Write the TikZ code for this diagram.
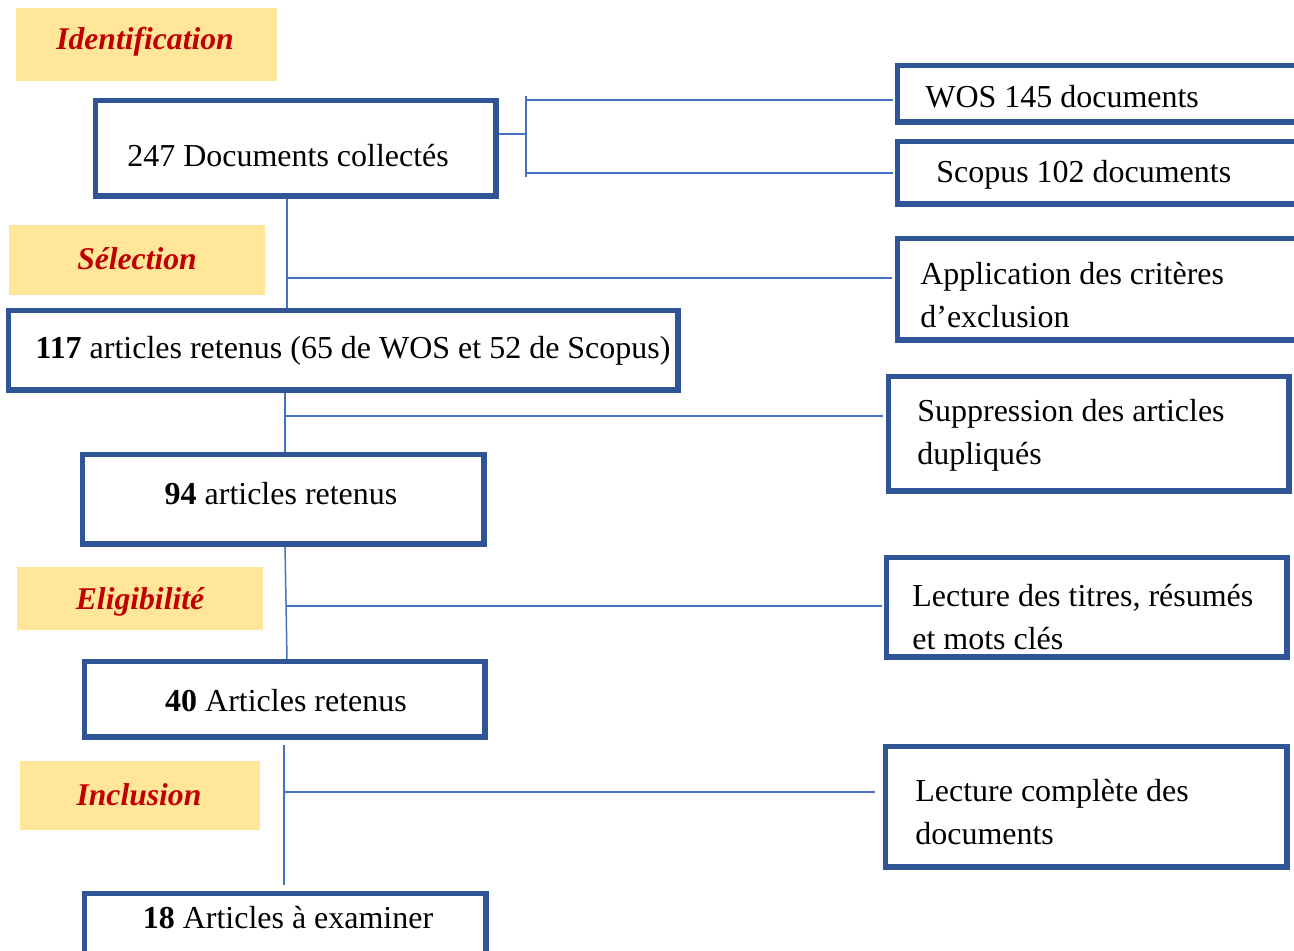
\documentclass[tikz,border=0pt]{standalone}
\usepackage{fontspec}
\setmainfont{Liberation Serif}
\usetikzlibrary{fit}
\definecolor{boxblue}{HTML}{2F5597}
\definecolor{linkblue}{HTML}{4472C4}
\definecolor{labred}{HTML}{C00000}
\definecolor{labfill}{HTML}{FFE699}
\tikzset{
  box/.style={draw=boxblue, line width=0.07cm, inner sep=0pt, fill=white},
  phase/.style={fill=labfill, draw=none, inner sep=0pt},
  txt/.style={inner sep=0pt, font=\fontsize{18.2}{24.5}\selectfont, align=left},
  phasetxt/.style={inner sep=0pt, text=labred, font=\fontsize{18}{22}\selectfont\bfseries\itshape},
  link/.style={draw=linkblue, line width=0.03cm},
}
\begin{document}
\begin{tikzpicture}[x=0.02cm, y=-0.02cm]
\useasboundingbox (0,0) rectangle (1294,950);
\clip (0,0) rectangle (1294,950);
\coordinate (br) at (526,134);
\coordinate (brt) at (526,96);
\coordinate (brb) at (526,177);
\coordinate (j1) at (287,278);
\coordinate (j2) at (285,416);
\coordinate (j3) at (287,606);
\coordinate (j4) at (284,792);
% phase labels
\node[phase, fit={(16,8) (277,81)}] (ident) {};
\node[phasetxt] (identt) at (145,42) {Identification};
\node[phase, fit={(9,225) (265,295)}] (sel) {};
\node[phasetxt] (selt) at (137,259) {Sélection};
\node[phase, fit={(17,567) (263,630)}] (elig) {};
\node[phasetxt] (eligt) at (140,602) {Eligibilité};
\node[phase, fit={(20,761) (260,830)}] (incl) {};
\node[phasetxt] (inclt) at (139,795) {Inclusion};
% boxes (left)
\node[box, fit={(96,101) (495,195)}] (b1) {};
\node[box, fit={(9,311) (677,389)}] (b117) {};
\node[box, fit={(83,455) (483,543)}] (b94) {};
\node[box, fit={(85,662) (484,736)}] (b40) {};
\node[box, fit={(85,894) (485,970)}] (b18) {};
% boxes (right)
\node[box, fit={(898,66) (1310,121)}] (wos) {};
\node[box, fit={(898,142) (1310,203)}] (scop) {};
\node[box, fit={(898,239) (1310,339)}] (app) {};
\node[box, fit={(889,377) (1288,490)}] (sup) {};
\node[box, fit={(887,558) (1286,656)}] (lect1) {};
\node[box, fit={(886,747) (1286,866)}] (lect2) {};
% connectors
\draw[link] (b1.south -| j1) -- (b117.north -| j1);
\draw[link] (j1) -- ([xshift=-0.08cm]j1 -| app.west);
\draw[link] (b1.east |- br) -- (br);
\draw[link] (brt) -- (brb);
\draw[link] (br |- 0,100) -- ([xshift=-0.06cm]wos.west |- 0,100);
\draw[link] (br |- 0,173) -- ([xshift=-0.06cm]scop.west |- 0,173);
\draw[link] (b117.south -| j2) -- (b94.north -| j2);
\draw[link] (j2) -- ([xshift=-0.08cm]j2 -| sup.west);
\draw[link] (b94.south -| j2) -- (b40.north -| j3);
\draw[link] (j3) -- ([xshift=-0.06cm]j3 -| lect1.west);
\draw[link] ([yshift=-0.14cm]b40.south -| j4) -- ([yshift=0.14cm]b18.north -| j4);
\draw[link] (j4) -- ([xshift=-0.18cm]j4 -| lect2.west);
% box borders on top of connector ends
\foreach \n in {b1,b117,b94,b40,b18,wos,scop,app,sup,lect1,lect2}
  \draw[draw=boxblue, line width=0.07cm] (\n.north west) rectangle (\n.south east);
% texts
\node[txt, anchor=west] (t1) at (127,156) {247 Documents collectés};
\node[txt, anchor=west] (twos) at (925,97) {WOS 145 documents};
\node[txt, anchor=west] (tscop) at (936,175) {Scopus 102 documents};
\node[txt, anchor=west] (tapp) at (920,295) {Application des critères\\d’exclusion};
\node[txt] (t117) at (353,351) {\textbf{117} articles retenus (65 de WOS et 52 de Scopus)};
\node[txt, anchor=west] (tsup) at (917,435) {Suppression des articles\\dupliqués};
\node[txt] (t94) at (281,494) {\textbf{94} articles retenus};
\node[txt, anchor=west] (tl1) at (912,617) {Lecture des titres, résumés\\et mots clés};
\node[txt] (t40) at (286,701) {\textbf{40} Articles retenus};
\node[txt, anchor=west] (tl2) at (915,812) {Lecture complète des\\documents};
\node[txt] (t18) at (288,918) {\textbf{18} Articles à examiner};
\end{tikzpicture}
\end{document}
